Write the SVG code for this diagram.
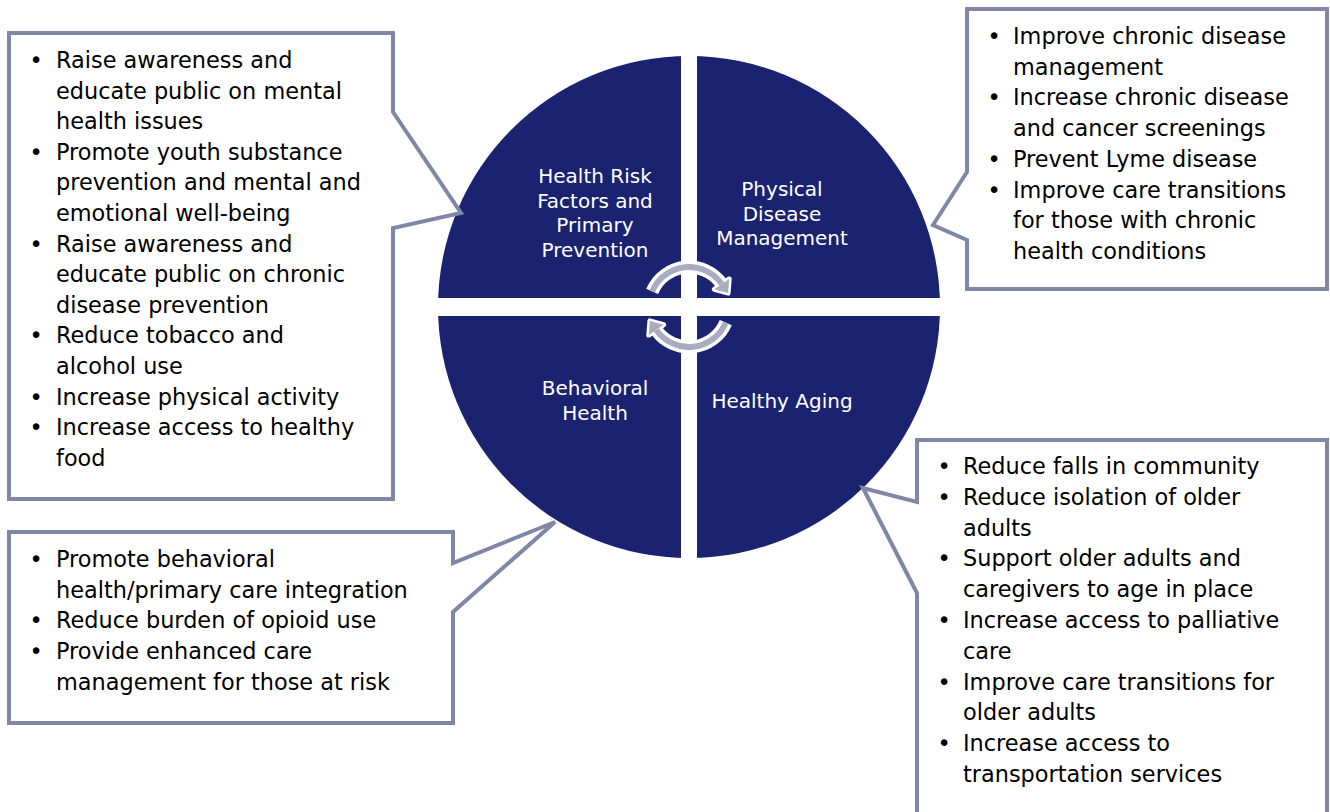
<svg xmlns="http://www.w3.org/2000/svg" width="1330" height="812" viewBox="0 0 1330 812">
<style>
.call{fill:#fff;stroke:#7f87a6;stroke-width:4;stroke-linejoin:miter}
.t{font-family:"DejaVu Sans",sans-serif;font-size:22.4px;fill:#000}
.b{font-family:"DejaVu Sans",sans-serif;font-size:22.4px;fill:#000;text-anchor:middle}
.lab{font-family:"DejaVu Sans",sans-serif;font-size:20px;fill:#fff;text-anchor:middle}
.bandW{fill:none;stroke:#fff;stroke-width:13}
.bandG{fill:none;stroke:#a9abbf;stroke-width:6}
.headW{fill:#fff;stroke:#fff;stroke-width:5;stroke-linejoin:round}
.headG{fill:#a9abbf}
</style>
<rect width="1330" height="812" fill="#fff"/>
<g id="wheel">
<circle cx="689" cy="307" r="251" fill="#1b2370"/>
<rect x="681" y="50" width="16" height="515" fill="#fff"/>
<rect x="430" y="298" width="520" height="18" fill="#fff"/>
<text class="lab" x="595" y="183">Health Risk</text>
<text class="lab" x="595" y="207.7">Factors and</text>
<text class="lab" x="595" y="232.4">Primary</text>
<text class="lab" x="595" y="257">Prevention</text>
<text class="lab" x="782" y="196">Physical</text>
<text class="lab" x="782" y="220.5">Disease</text>
<text class="lab" x="782" y="245">Management</text>
<text class="lab" x="595" y="395">Behavioral</text>
<text class="lab" x="595" y="420">Health</text>
<text class="lab" x="782" y="408">Healthy Aging</text>
</g>
<g id="cycle-arrows">
<path class="bandW" d="M 652.2 291.4 A 40 40 0 0 1 721.8 284.1"/>
<path class="bandW" d="M 725.8 322.6 A 40 40 0 0 1 656.2 329.9"/>
<polygon class="headW" points="728.1,293.1 729.2,278.9 714.4,289.3"/>
<polygon class="headW" points="649.9,320.9 648.8,335.1 663.6,324.7"/>
<path class="bandG" d="M 652.2 291.4 A 40 40 0 0 1 721.8 284.1"/>
<path class="bandG" d="M 725.8 322.6 A 40 40 0 0 1 656.2 329.9"/>
<polygon class="headG" points="728.1,293.1 729.2,278.9 714.4,289.3"/>
<polygon class="headG" points="649.9,320.9 648.8,335.1 663.6,324.7"/>
</g>
<g id="callout-health-risk">
<path class="call" d="M 9 33 H 393 V 112 L 461 213 L 393 228 V 499 H 9 Z"/>
<text class="b" x="36" y="68">•</text>
<text class="t" x="56" y="68">Raise awareness and</text>
<text class="t" x="56" y="98.6">educate public on mental</text>
<text class="t" x="56" y="129.2">health issues</text>
<text class="b" x="36" y="159.8">•</text>
<text class="t" x="56" y="159.8">Promote youth substance</text>
<text class="t" x="56" y="190.4">prevention and mental and</text>
<text class="t" x="56" y="221">emotional well-being</text>
<text class="b" x="36" y="251.6">•</text>
<text class="t" x="56" y="251.6">Raise awareness and</text>
<text class="t" x="56" y="282.2">educate public on chronic</text>
<text class="t" x="56" y="312.8">disease prevention</text>
<text class="b" x="36" y="343.4">•</text>
<text class="t" x="56" y="343.4">Reduce tobacco and</text>
<text class="t" x="56" y="374">alcohol use</text>
<text class="b" x="36" y="404.6">•</text>
<text class="t" x="56" y="404.6">Increase physical activity</text>
<text class="b" x="36" y="435.2">•</text>
<text class="t" x="56" y="435.2">Increase access to healthy</text>
<text class="t" x="56" y="465.8">food</text>
</g>
<g id="callout-physical">
<path class="call" d="M 967 9 H 1327 V 289 H 967 V 240 L 933 225 L 967 172 Z"/>
<text class="b" x="994" y="44">•</text>
<text class="t" x="1013" y="44">Improve chronic disease</text>
<text class="t" x="1013" y="74.7">management</text>
<text class="b" x="994" y="105.4">•</text>
<text class="t" x="1013" y="105.4">Increase chronic disease</text>
<text class="t" x="1013" y="136.1">and cancer screenings</text>
<text class="b" x="994" y="166.8">•</text>
<text class="t" x="1013" y="166.8">Prevent Lyme disease</text>
<text class="b" x="994" y="197.5">•</text>
<text class="t" x="1013" y="197.5">Improve care transitions</text>
<text class="t" x="1013" y="228.2">for those with chronic</text>
<text class="t" x="1013" y="258.9">health conditions</text>
</g>
<g id="callout-behavioral">
<path class="call" d="M 9 532 H 453 V 563 L 555 522 L 453 612 V 723 H 9 Z"/>
<text class="b" x="36" y="567">•</text>
<text class="t" x="56" y="567">Promote behavioral</text>
<text class="t" x="56" y="597.7">health/primary care integration</text>
<text class="b" x="36" y="628.4">•</text>
<text class="t" x="56" y="628.4">Reduce burden of opioid use</text>
<text class="b" x="36" y="659.1">•</text>
<text class="t" x="56" y="659.1">Provide enhanced care</text>
<text class="t" x="56" y="689.8">management for those at risk</text>
</g>
<g id="callout-aging">
<path class="call" d="M 917 440 H 1327 V 830 H 917 V 593 L 863 488 L 917 502 Z"/>
<text class="b" x="944" y="474">•</text>
<text class="t" x="963" y="474">Reduce falls in community</text>
<text class="b" x="944" y="504.8">•</text>
<text class="t" x="963" y="504.8">Reduce isolation of older</text>
<text class="t" x="963" y="535.6">adults</text>
<text class="b" x="944" y="566.4">•</text>
<text class="t" x="963" y="566.4">Support older adults and</text>
<text class="t" x="963" y="597.2">caregivers to age in place</text>
<text class="b" x="944" y="628">•</text>
<text class="t" x="963" y="628">Increase access to palliative</text>
<text class="t" x="963" y="658.8">care</text>
<text class="b" x="944" y="689.6">•</text>
<text class="t" x="963" y="689.6">Improve care transitions for</text>
<text class="t" x="963" y="720.4">older adults</text>
<text class="b" x="944" y="751.2">•</text>
<text class="t" x="963" y="751.2">Increase access to</text>
<text class="t" x="963" y="782">transportation services</text>
</g>
</svg>
